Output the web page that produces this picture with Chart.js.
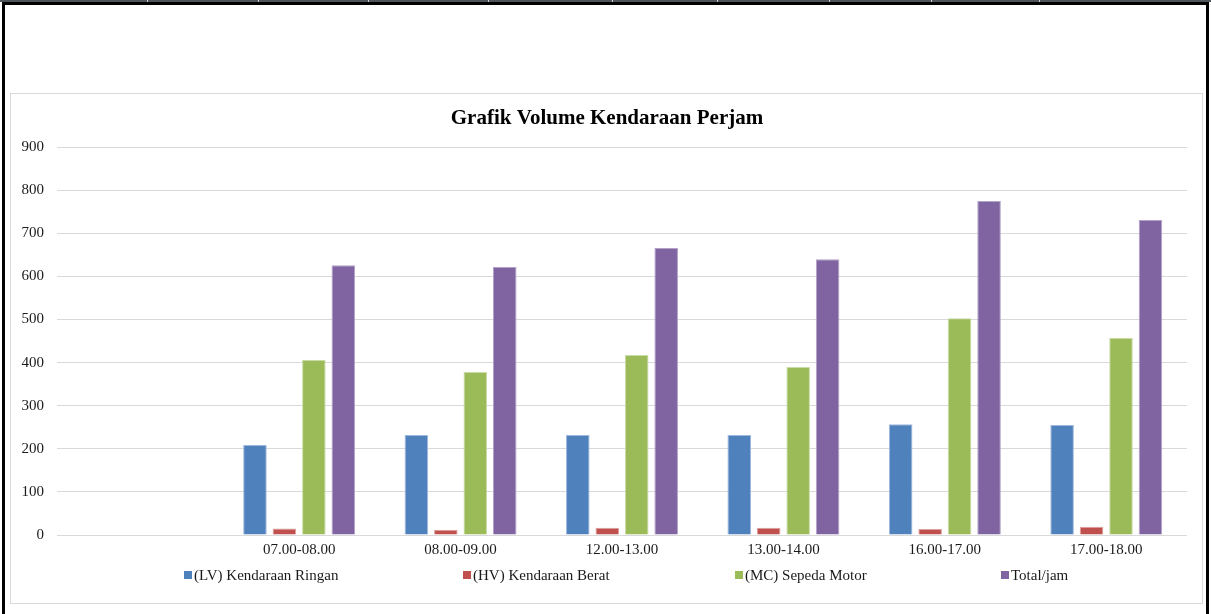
<!DOCTYPE html>
<html>
<head>
<meta charset="utf-8">
<script src="https://cdn.jsdelivr.net/npm/chart.js@4.4.1/dist/chart.umd.min.js"></script>
<style>
    body { margin: 0; background: #fff; width: 1211px; height: 614px; overflow: hidden; position: relative; font-family: "Liberation Serif", "Times New Roman", serif; }
    #topStrip { position: absolute; left: 0; top: 0; width: 1211px; height: 2px; background: #50555b; }
    #topStrip .edge { position: absolute; top: 0; width: 1px; height: 2px; background: #d0d0d0; }
    #frame { position: absolute; left: 2px; top: 2px; width: 1201px; height: 700px; border: 3px solid #000; }
    #chartBox { position: absolute; left: 10px; top: 93px; width: 1191px; height: 509px; border: 1px solid #d9d9d9; }
    #chartBox canvas { display: block; }
    #legend { position: absolute; left: 184px; top: 566px; height: 18px; display: flex; font-size: 15px; color: #1a1a1a; }
    .legend-item { display: flex; align-items: center; white-space: nowrap; }
    .legend-box { width: 8px; height: 8px; margin-right: 2px; }
</style>
</head>
<body>
<div id="topStrip"></div>
<div id="frame"></div>
<div id="chartBox"><canvas id="volumeChart" width="1191" height="509"></canvas></div>
<div id="legend"></div>
<script>
// data
const periods = ["", "07.00-08.00", "08.00-09.00", "12.00-13.00", "13.00-14.00", "16.00-17.00", "17.00-18.00"];
const lvRingan = [null, 209, 232, 232, 232, 257, 255];
const hvBerat = [null, 15, 12, 17, 17, 14, 19];
const mcMotor = [null, 406, 378, 418, 390, 503, 457];
const totalJam = [null, 626, 622, 666, 640, 775, 731];
const seriesNames = ["(LV) Kendaraan Ringan", "(HV) Kendaraan Berat", "(MC) Sepeda Motor", "Total/jam"];
const yTicks = [0, 100, 200, 300, 400, 500, 600, 700, 800, 900];

document.addEventListener("DOMContentLoaded", () => {
    // little table edges above the frame
    const strip = document.getElementById('topStrip');
    [147, 258, 368, 488, 612, 717, 829, 931, 1039].forEach(x => {
        const e = document.createElement('div');
        e.className = 'edge';
        e.style.left = x + 'px';
        strip.appendChild(e);
    });

    const fills = ['#4f81bd', '#c0504d', '#9bbb59', '#8064a2'];
    const edges = ['#9fb8dc', '#dca09e', '#c9dba6', '#b3a2c9'];
    const values = [lvRingan, hvBerat, mcMotor, totalJam];

    const datasets = seriesNames.map((name, i) => ({
        label: name,
        data: values[i],
        backgroundColor: fills[i],
        borderColor: edges[i],
        borderWidth: 1,
        categoryPercentage: 0.73,
        barPercentage: 0.8
    }));

    // title sits a bit right of the canvas middle in the original
    const shiftTitle = {
        id: 'shiftTitle',
        afterLayout(chart) {
            if (chart.titleBlock) chart.titleBlock.left = 16;
        }
    };

    const ctx = document.getElementById('volumeChart').getContext('2d');
    const chart = new Chart(ctx, {
        type: 'bar',
        data: { labels: periods, datasets: datasets },
        plugins: [shiftTitle],
        options: {
            responsive: false,
            animation: false,
            layout: { padding: { left: 0, right: 15, top: 0, bottom: 38 } },
            plugins: {
                legend: { display: false },
                tooltip: { enabled: false },
                title: {
                    display: true,
                    text: 'Grafik Volume Kendaraan Perjam',
                    color: '#000',
                    font: { family: '"Liberation Serif", serif', size: 21, weight: 'bold' },
                    padding: { top: 12, bottom: 16 }
                }
            },
            scales: {
                x: {
                    grid: { display: false, drawTicks: false },
                    border: { display: false },
                    ticks: {
                        color: '#1a1a1a',
                        padding: 6,
                        maxRotation: 0,
                        autoSkip: false,
                        font: { family: '"Liberation Serif", serif', size: 15 }
                    }
                },
                y: {
                    min: 0,
                    max: 900,
                    afterFit: scale => { scale.width = 46; },
                    afterBuildTicks: scale => { scale.ticks = yTicks.map(v => ({ value: v })); },
                    grid: { color: '#d9d9d9', lineWidth: 1, drawTicks: false },
                    border: { display: false },
                    ticks: {
                        color: '#1a1a1a',
                        padding: 13,
                        font: { family: '"Liberation Serif", serif', size: 15 }
                    }
                }
            }
        }
    });

    // legend spread out like the original
    const legend = document.getElementById('legend');
    const itemWidths = [279, 272, 266, 0];
    chart.data.datasets.forEach((ds, i) => {
        const item = document.createElement('div');
        item.className = 'legend-item';
        if (itemWidths[i]) item.style.width = itemWidths[i] + 'px';
        const box = document.createElement('span');
        box.className = 'legend-box';
        box.style.background = ds.backgroundColor;
        const text = document.createElement('span');
        text.textContent = ds.label;
        item.appendChild(box);
        item.appendChild(text);
        legend.appendChild(item);
    });
});
</script>
</body>
</html>
